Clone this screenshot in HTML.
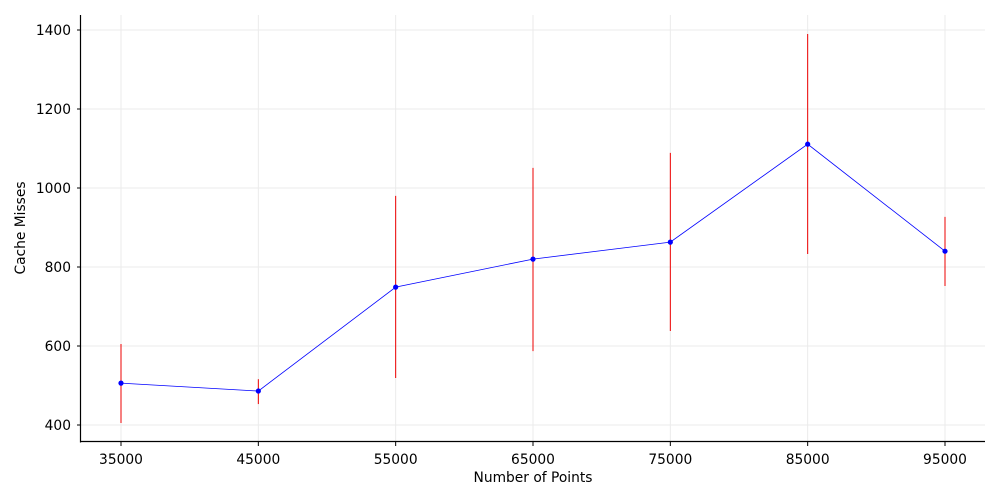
<!DOCTYPE html>
<html><head><meta charset="utf-8"><style>
html,body{margin:0;padding:0;background:#fff;}
svg{display:block;font-family:"DejaVu Sans","Liberation Sans",sans-serif;}
</style></head><body>
<svg id="chart" width="1000" height="500">
<g id="grid"></g>
<g id="axes"></g>
<g id="marks"></g>
<text x="533" y="482" text-anchor="middle" font-size="13.8">Number of Points</text>
<text transform="translate(25,228) rotate(-90)" text-anchor="middle" font-size="13.8">Cache Misses</text>
</svg>
<script>
const xs = [35000,45000,55000,65000,75000,85000,95000];
const means = [506,486,749,820,863,1111,840];
const errLow = [405,453,519,587,638,833,752];
const errHigh = [605,516,980,1051,1089,1390,927];
const yTicks = [400,600,800,1000,1200,1400];
const xTicks = [35000,45000,55000,65000,75000,85000,95000];

const X = v => 121 + (v-35000)*(824/60000);
const Y = v => 425 - (v-400)*0.395;
const NS="http://www.w3.org/2000/svg";
function mk(parent,tag,attrs){const e=document.createElementNS(NS,tag);for(const k in attrs)e.setAttribute(k,attrs[k]);parent.appendChild(e);return e;}
const grid=document.getElementById('grid'),axes=document.getElementById('axes'),marks=document.getElementById('marks');

yTicks.forEach(t=>{
  const y=Y(t);
  const g=mk(grid,'line',{x1:81,x2:985,y1:y,y2:y,stroke:'#ebebeb','stroke-width':1});
  
  
  const tk=mk(axes,'line',{x1:77,x2:81,y1:y,y2:y,stroke:'#000'});
  
  
  const tx=mk(axes,'text',{x:71,y:y+4.8,'text-anchor':'end','font-size':13.8});
  tx.textContent=t;
  
  
});
xTicks.forEach(t=>{
  const x=X(t);
  const g=mk(grid,'line',{x1:x,x2:x,y1:15,y2:442,stroke:'#ebebeb','stroke-width':1});
  
  
  const tk=mk(axes,'line',{x1:x,x2:x,y1:442,y2:446,stroke:'#000'});
  
  
  const tx=mk(axes,'text',{x:x,y:464,'text-anchor':'middle','font-size':13.8});
  tx.textContent=t;
  
  
});
const sl=mk(axes,'line',{x1:80.5,x2:80.5,y1:15,y2:442.5,stroke:'#000','stroke-width':1.2});


const sb=mk(axes,'line',{x1:80,x2:985,y1:441.5,y2:441.5,stroke:'#000','stroke-width':1.2});



xs.forEach((v,i)=>{
  const e=mk(marks,'line',{x1:X(v),x2:X(v),y1:Y(errLow[i]),y2:Y(errHigh[i]),stroke:'#e00','stroke-width':1});
  
  
});
const pl=mk(marks,'polyline',{points:xs.map((v,i)=>X(v)+','+Y(means[i])).join(' '),fill:'none',stroke:'#0000ff','stroke-width':0.8});


xs.forEach((v,i)=>{
  const c=mk(marks,'circle',{cx:X(v),cy:Y(means[i]),r:2.6,fill:'#0000ff'});
  
  
});
</script>
</body></html>
